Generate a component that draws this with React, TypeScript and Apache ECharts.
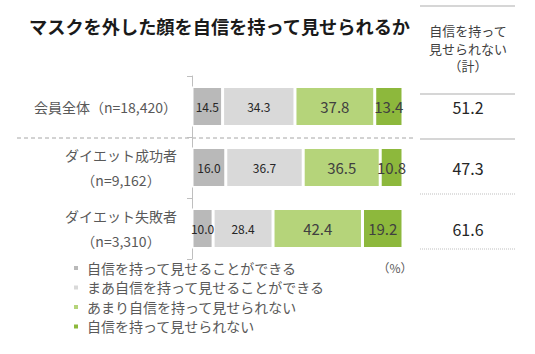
import React, { useEffect, useRef } from "react";
import * as echarts from "echarts";

const categories = [
  "会員全体（n=18,420）",
  "ダイエット成功者\n（n=9,162）",
  "ダイエット失敗者\n（n=3,310）",
];
const seriesNames = [
  "自信を持って見せることができる",
  "まあ自信を持って見せることができる",
  "あまり自信を持って見せられない",
  "自信を持って見せられない",
];
const confident = [14.5, 16.0, 10.0];
const somewhatConfident = [34.3, 36.7, 28.4];
const notVeryConfident = [37.8, 36.5, 42.4];
const notConfident = [13.4, 10.8, 19.2];
const totals = [51.2, 47.3, 61.6];
const colors = ["#b9b9b9", "#d9d9d9", "#b5d47a", "#8db83c"];
const labelSizes = [12, 12, 15, 15];

const FONT = "'Noto Sans CJK JP', 'Noto Sans', sans-serif";

export default function App() {
  const ref = useRef<HTMLDivElement>(null);
  useEffect(() => {
    document.body.style.margin = "0";
    const chart = echarts.init(ref.current!, null, { renderer: "svg" });
    const values = [confident, somewhatConfident, notVeryConfident, notConfident];
    const series = values.map((data, i) => ({
      name: seriesNames[i],
      type: "bar",
      stack: "total",
      barWidth: 40,
      data,
      itemStyle: { color: colors[i], borderColor: "#ffffff", borderWidth: 1.5 },
      label: {
        show: true,
        position: "inside",
        fontSize: labelSizes[i],
        color: i < 2 ? "#262626" : "#404040",
        fontFamily: FONT,
        formatter: (p: any) => Number(p.value).toFixed(1),
      },
    }));
    chart.setOption({
      animation: false,
      textStyle: { fontFamily: FONT },
      title: {
        text: "マスクを外した顔を自信を持って見せられるか",
        left: 24,
        top: 12,
        textStyle: { fontSize: 18.2, fontWeight: "bold", color: "#1a1a1a", fontFamily: FONT },
      },
      legend: {
        orient: "vertical",
        left: 67,
        top: 256,
        itemWidth: 6,
        itemHeight: 6,
        itemGap: 5.5,
        icon: "rect",
        data: seriesNames,
        textStyle: { fontSize: 14, color: "#595959", fontFamily: FONT, padding: [0, 0, 0, 3] },
      },
      grid: { left: 192, width: 211, top: 76, height: 183 },
      xAxis: { type: "value", min: 0, max: 100, show: false },
      yAxis: [
        {
          type: "category",
          inverse: true,
          data: categories,
          axisLine: { show: true, lineStyle: { color: "#bfbfbf", width: 1 } },
          axisTick: { show: true, length: 5, lineStyle: { color: "#bfbfbf" } },
          axisLabel: {
            margin: 15,
            align: "right",
            formatter: (v: string) =>
              v
                .split("\n")
                .map((l) => "{c|" + l + "}")
                .join("\n"),
            rich: {
              c: { fontSize: 14, color: "#595959", lineHeight: 25, align: "center", fontFamily: FONT },
            },
          },
        },
        {
          type: "category",
          inverse: true,
          position: "right",
          data: categories,
          axisLine: { show: false },
          axisTick: { show: false },
          axisLabel: {
            margin: 65,
            align: "center",
            fontSize: 16,
            color: "#262626",
            fontFamily: FONT,
            formatter: (_v: string, idx: number) => totals[idx].toFixed(1),
          },
        },
      ],
      series,
      graphic: [
        {
          type: "line",
          shape: { x1: 17, y1: 138, x2: 415, y2: 138 },
          style: { stroke: "#a6a6a6", lineWidth: 1, lineDash: [4, 3] },
        },
        { type: "line", shape: { x1: 420, y1: 6, x2: 515, y2: 6 }, style: { stroke: "#c8c8c8", lineWidth: 1.5 } },
        { type: "line", shape: { x1: 420, y1: 94, x2: 515, y2: 94 }, style: { stroke: "#c8c8c8", lineWidth: 1.5 } },
        { type: "line", shape: { x1: 420, y1: 139, x2: 515, y2: 139 }, style: { stroke: "#c8c8c8", lineWidth: 1.5 } },
        {
          type: "line",
          shape: { x1: 420, y1: 194, x2: 515, y2: 194 },
          style: { stroke: "#bfbfbf", lineWidth: 1, lineDash: [1, 1] },
        },
        {
          type: "line",
          shape: { x1: 420, y1: 249, x2: 515, y2: 249 },
          style: { stroke: "#bfbfbf", lineWidth: 1, lineDash: [1, 1] },
        },
        {
          type: "text",
          x: 468,
          y: 22,
          style: {
            text: "自信を持って\n見せられない\n（計）",
            fontSize: 13,
            lineHeight: 17.5,
            fill: "#404040",
            align: "center",
            verticalAlign: "top",
            fontFamily: FONT,
          },
        },
        {
          type: "text",
          x: 395,
          y: 267,
          style: {
            text: "（%）",
            fontSize: 12,
            fill: "#595959",
            align: "center",
            verticalAlign: "middle",
            fontFamily: FONT,
          },
        },
      ],
    });
    return () => chart.dispose();
  }, []);
  return (
    <div
      ref={ref}
      style={{ width: 535, height: 354, position: "absolute", left: 0, top: 0, background: "#ffffff" }}
    />
  );
}
